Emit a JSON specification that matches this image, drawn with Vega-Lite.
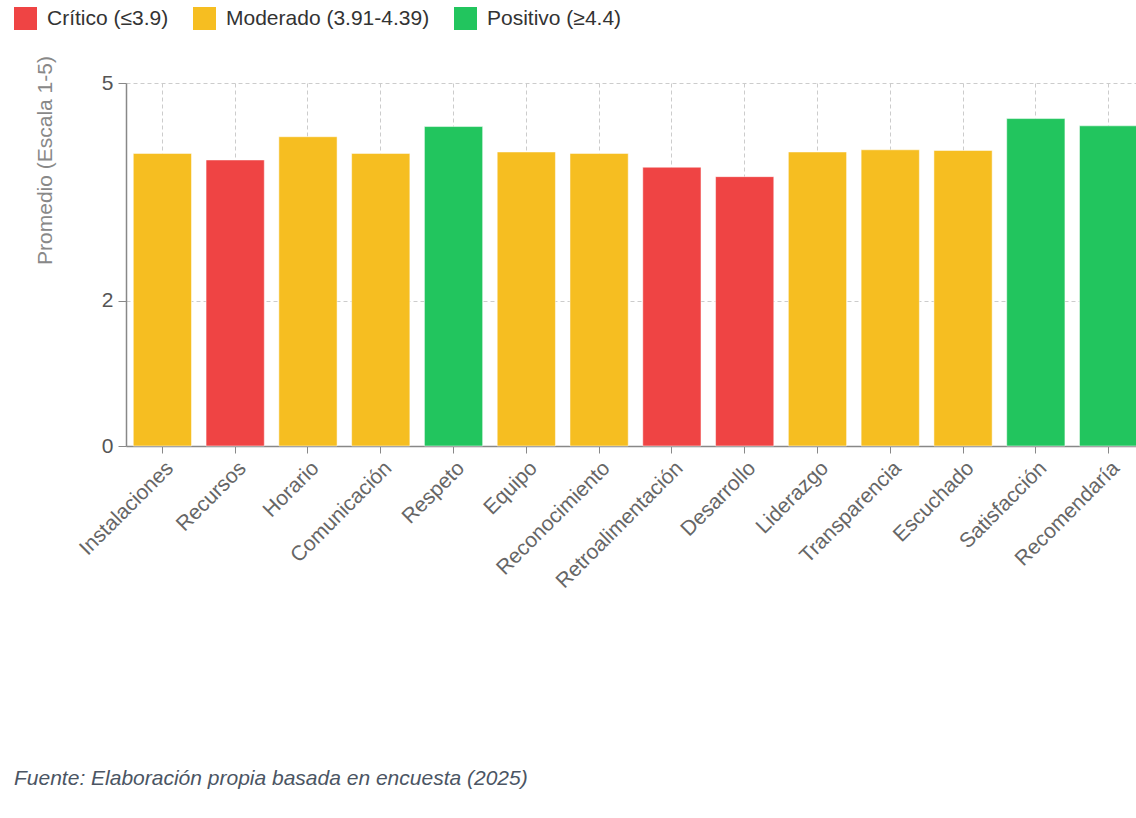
{
  "$schema": "https://vega.github.io/schema/vega-lite/v6.json",
  "width": 1019,
  "height": 363,
  "padding": {"left": 14, "top": 7, "right": 0, "bottom": 5},
  "background": "white",
  "title": {
    "text": "Fuente: Elaboración propia basada en encuesta (2025)",
    "orient": "bottom",
    "anchor": "start",
    "frame": "bounds",
    "offset": 176,
    "fontSize": 21,
    "fontStyle": "italic",
    "fontWeight": "normal",
    "color": "#4b5563",
    "font": "Liberation Sans"
  },
  "data": {
    "values": [
      {"dimension": "Instalaciones", "promedio": 4.03, "nivel": "Moderado (3.91-4.39)"},
      {"dimension": "Recursos", "promedio": 3.94, "nivel": "Crítico (≤3.9)"},
      {"dimension": "Horario", "promedio": 4.26, "nivel": "Moderado (3.91-4.39)"},
      {"dimension": "Comunicación", "promedio": 4.03, "nivel": "Moderado (3.91-4.39)"},
      {"dimension": "Respeto", "promedio": 4.40, "nivel": "Positivo (≥4.4)"},
      {"dimension": "Equipo", "promedio": 4.05, "nivel": "Moderado (3.91-4.39)"},
      {"dimension": "Reconocimiento", "promedio": 4.03, "nivel": "Moderado (3.91-4.39)"},
      {"dimension": "Retroalimentación", "promedio": 3.84, "nivel": "Crítico (≤3.9)"},
      {"dimension": "Desarrollo", "promedio": 3.71, "nivel": "Crítico (≤3.9)"},
      {"dimension": "Liderazgo", "promedio": 4.05, "nivel": "Moderado (3.91-4.39)"},
      {"dimension": "Transparencia", "promedio": 4.08, "nivel": "Moderado (3.91-4.39)"},
      {"dimension": "Escuchado", "promedio": 4.07, "nivel": "Moderado (3.91-4.39)"},
      {"dimension": "Satisfacción", "promedio": 4.51, "nivel": "Positivo (≥4.4)"},
      {"dimension": "Recomendaría", "promedio": 4.41, "nivel": "Positivo (≥4.4)"}
    ]
  },
  "mark": {"type": "bar", "stroke": "white", "strokeOpacity": 0.5, "strokeWidth": 1},
  "encoding": {
    "x": {
      "field": "dimension",
      "type": "nominal",
      "sort": null,
      "scale": {"paddingInner": 0.2, "paddingOuter": 0.1},
      "axis": {
        "title": null,
        "labelAngle": -45,
        "labelFontSize": 21,
        "labelColor": "#666666",
        "labelPadding": 4,
        "labelLimit": 300,
        "tickSize": 7,
        "tickColor": "#888888",
        "domainColor": "#888888",
        "domainWidth": 1.5,
        "grid": true,
        "gridDash": [4, 3],
        "gridColor": "#cccccc",
        "bandPosition": 0.5
      }
    },
    "y": {
      "field": "promedio",
      "type": "quantitative",
      "scale": {"domain": [0, 5], "nice": false},
      "axis": {
        "values": [0, 2, 5],
        "title": "Promedio (Escala 1-5)",
        "titleFontSize": 21,
        "titleFontWeight": "normal",
        "titleColor": "#888888",
        "titlePadding": 46,
        "titleY": 77,
        "labelFontSize": 21,
        "labelColor": "#555555",
        "labelPadding": 5,
        "tickSize": 8,
        "tickColor": "#888888",
        "domainColor": "#888888",
        "domainWidth": 1.5,
        "gridDash": [4, 3],
        "gridColor": "#cccccc"
      }
    },
    "color": {
      "field": "nivel",
      "type": "nominal",
      "scale": {
        "domain": ["Crítico (≤3.9)", "Moderado (3.91-4.39)", "Positivo (≥4.4)"],
        "range": ["#ef4444", "#f6be21", "#22c55e"]
      },
      "legend": {
        "orient": "none",
        "legendX": -112,
        "legendY": -76,
        "direction": "horizontal",
        "title": null,
        "symbolType": "square",
        "symbolSize": 529,
        "symbolStrokeWidth": 0,
        "symbolOpacity": 1,
        "labelFontSize": 21,
        "labelLimit": 400,
        "labelColor": "#333333",
        "labelOffset": 10,
        "columnPadding": 24,
        "padding": 0
      }
    }
  },
  "config": {
    "view": {"stroke": null},
    "font": "Liberation Sans"
  }
}
